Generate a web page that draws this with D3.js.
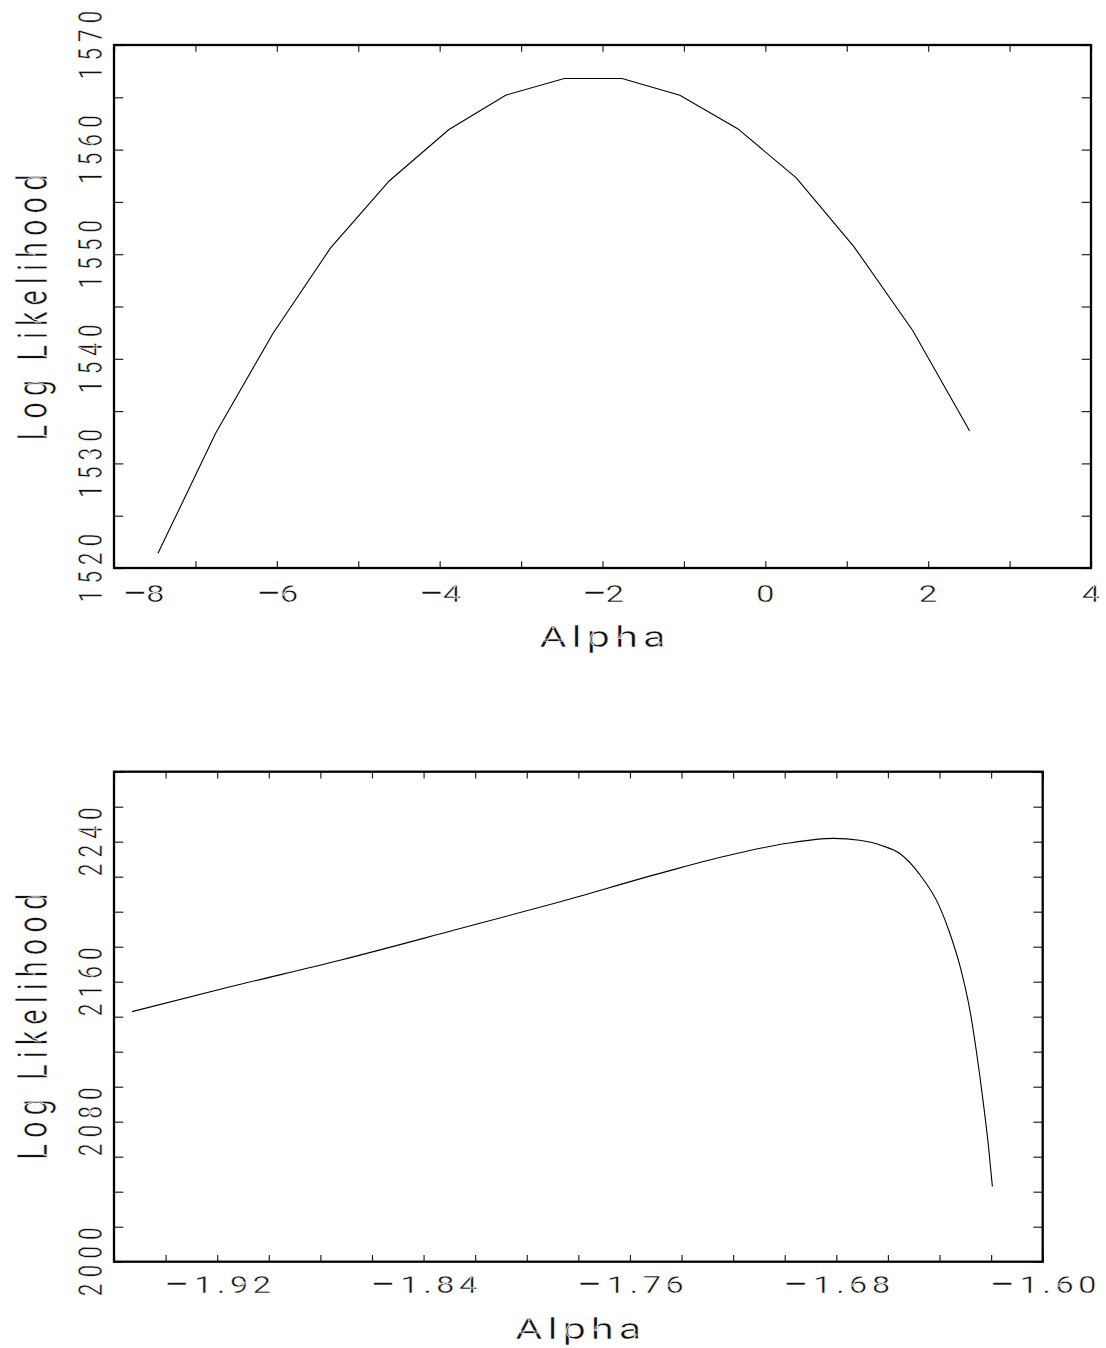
<!DOCTYPE html>
<html>
<head>
<meta charset="utf-8">
<script src="https://cdn.jsdelivr.net/npm/d3@7"></script>
<style>
  html, body { margin: 0; padding: 0; background: #fff; }
  svg { display: block; }
  /* trait plus fin : un léger contour blanc amincit le glyphe */
  text { font-family: Roboto, "DejaVu Sans", sans-serif; font-weight: 400; fill: #111;
         stroke: #fff; stroke-width: 0.5px; paint-order: fill stroke; }
  .tick line { stroke: #222; stroke-width: 1.2; }
  .domain { display: none; }
</style>
</head>
<body>
<svg id="chart" width="1106" height="1348"></svg>
<script>
// ——— données lues sur l'image
// panneau du haut : grille grossière en alpha
const topAlpha = [-7.46, -6.75, -6.05, -5.34, -4.62, -3.89, -3.19, -2.47, -1.76, -1.05, -0.34, 0.38, 1.09, 1.81, 2.51];
const topLogL  = [1521.4, 1532.9, 1542.4, 1550.6, 1557.0, 1561.9, 1565.2, 1566.8, 1566.8, 1565.2, 1562.0, 1557.3, 1550.7, 1542.7, 1533.1];

// panneau du bas : zoom autour du maximum
const botAlpha = [-1.953, -1.915, -1.872, -1.828, -1.787, -1.746, -1.720, -1.699, -1.681, -1.671,
                  -1.663, -1.655, -1.648, -1.640, -1.636, -1.632, -1.628, -1.6256, -1.623, -1.621, -1.6195];
const botLogL  = [2142.9, 2157.1, 2172.4, 2189.5, 2205.7, 2222.9, 2232.8, 2239.1, 2241.9, 2240.8,
                  2238.1, 2232.8, 2221.9, 2202.9, 2187.7, 2168.6, 2141.9, 2119.1, 2090.5, 2065.7, 2042.9];

// étiquettes des axes
const topXLabels = [-8, -6, -4, -2, 0, 2, 4];
const topYLabels = [1520, 1530, 1540, 1550, 1560, 1570];
const botXLabels = [-1.92, -1.84, -1.76, -1.68, -1.60];
const botYLabels = [2000, 2080, 2160, 2240];

const xTitle = "Alpha";
const yTitle = "Log Likelihood";

// ——— utils
const SX = 1.44; // l'original est étiré horizontalement
const svg = d3.select("#chart");

// texte horizontal ; len = largeur voulue à l'écran
function hText(g, x, y, str, size, len) {
  const t = g.append("text")
    .attr("transform", `translate(${x},${y}) scale(${SX},1)`)
    .attr("text-anchor", "middle")
    .style("font-size", size + "px");
  if (str[0] === "\u2212") {
    // signe moins plus long, comme dans l'original
    t.append("tspan").style("font-size", (size * 1.4) + "px").attr("dy", 2).text("\u2212");
    t.append("tspan").attr("dy", -2).text(str.slice(1));
  } else {
    t.text(str);
  }
  if (str.length > 1) t.attr("textLength", len / SX).attr("lengthAdjust", "spacing");
}

// texte vertical (bas vers haut) ; len = hauteur voulue à l'écran
function vText(g, x, y, str, size, len) {
  g.append("text")
    .attr("transform", `translate(${x},${y}) scale(${SX},1) rotate(-90)`)
    .attr("text-anchor", "middle")
    .attr("textLength", len)
    .attr("lengthAdjust", "spacing")
    .style("font-size", size + "px")
    .text(str);
}

// ——— un panneau
function drawPanel(p) {
  const g = svg.append("g");
  const x = d3.scaleLinear().domain(p.xDomain).range([p.left, p.right]);
  const y = d3.scaleLinear().domain(p.yDomain).range([p.bottom, p.top]);

  const xt = d3.range(p.xDomain[0], p.xDomain[1] + p.xStep / 2, p.xStep);
  const yt = d3.range(p.yDomain[0], p.yDomain[1] + p.yStep / 2, p.yStep);

  // graduations vers l'intérieur sur les quatre côtés
  g.append("g").attr("transform", `translate(0,${p.bottom})`)
    .call(d3.axisBottom(x).tickValues(xt).tickSize(-6.7).tickFormat(""));
  g.append("g").attr("transform", `translate(0,${p.top})`)
    .call(d3.axisTop(x).tickValues(xt).tickSize(-6.7).tickFormat(""));
  g.append("g").attr("transform", `translate(${p.left},0)`)
    .call(d3.axisLeft(y).tickValues(yt).tickSize(-9.3).tickFormat(""));
  g.append("g").attr("transform", `translate(${p.right},0)`)
    .call(d3.axisRight(y).tickValues(yt).tickSize(-9.3).tickFormat(""));

  // cadre
  g.append("rect")
    .attr("x", p.left).attr("y", p.top)
    .attr("width", p.right - p.left).attr("height", p.bottom - p.top)
    .attr("fill", "none").attr("stroke", "#000").attr("stroke-width", 2.3);

  // courbe
  const line = d3.line()
    .x((d, i) => x(p.xs[i]))
    .y(d => y(d))
    .curve(p.curve);
  g.append("path")
    .attr("d", line(p.ys))
    .attr("fill", "none")
    .attr("stroke", "#000")
    .attr("stroke-width", 1.1);

  // étiquettes x
  p.xLabels.forEach(v => {
    let px = x(v);
    if (p.firstShift && v === p.xLabels[0]) px += p.firstShift;
    const s = p.xFmt(v);
    hText(g, px, p.bottom + p.xLabelOff, s, 23, 21.6 * s.length);
  });
  // étiquettes y
  p.yLabels.forEach(v => vText(g, 101.5, y(v), p.yFmt(v), 23, 69));

  // titres
  hText(g, (p.left + p.right) / 2, p.bottom + p.titleOff, xTitle, 29, 126);
  vText(g, 47, (p.top + p.bottom) / 2 + p.yTitleShift, yTitle, 29, 266);
}

drawPanel({
  left: 114, right: 1091, top: 45, bottom: 568,
  xDomain: [-8, 4], yDomain: [1520, 1570], xStep: 1, yStep: 5,
  xs: topAlpha, ys: topLogL, curve: d3.curveLinear,
  xLabels: topXLabels, yLabels: topYLabels,
  xFmt: d3.format("d"), yFmt: d3.format("d"),
  firstShift: 29, xLabelOff: 33.5, titleOff: 79, yTitleShift: 1
});

drawPanel({
  left: 114, right: 1042.7, top: 771.7, bottom: 1261.7,
  xDomain: [-1.96, -1.60], yDomain: [2000, 2280], xStep: 0.02, yStep: 20,
  xs: botAlpha, ys: botLogL, curve: d3.curveMonotoneX,
  xLabels: botXLabels, yLabels: botYLabels,
  xFmt: d3.format(".2f"), yFmt: d3.format("d"),
  firstShift: 0, xLabelOff: 31.5, titleOff: 77, yTitleShift: 10
});
</script>
</body>
</html>
